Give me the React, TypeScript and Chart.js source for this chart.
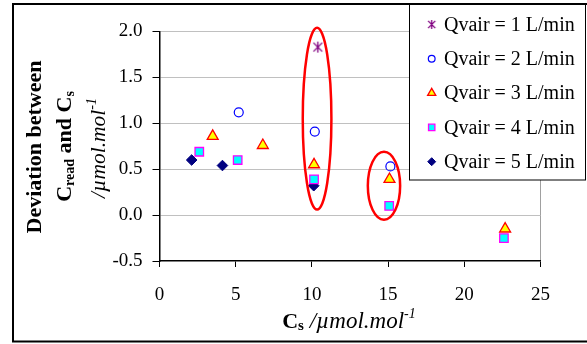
import React, { useEffect, useRef } from "react";
import { Chart, registerables } from "chart.js";
import { drawPoint } from "chart.js/helpers";

Chart.register(...registerables);

const seriesLabels = ["Qvair = 1 L/min", "Qvair = 2 L/min", "Qvair = 3 L/min", "Qvair = 4 L/min", "Qvair = 5 L/min"];

const q1X = [10.39];
const q1Y = [1.83];
const q2X = [5.2, 10.19, 15.15];
const q2Y = [1.12, 0.91, 0.53];
const q3X = [3.49, 6.78, 10.14, 15.09, 22.68];
const q3Y = [0.86, 0.76, 0.55, 0.39, -0.15];
const q4X = [2.61, 5.13, 10.14, 15.07, 22.6];
const q4Y = [0.69, 0.6, 0.39, 0.1, -0.25];
const q5X = [2.11, 4.13, 10.12];
const q5Y = [0.6, 0.54, 0.32];

const xTicks = [0, 5, 10, 15, 20, 25];
const yTicks = [-0.5, 0, 0.5, 1.0, 1.5, 2.0];

// highlighted groups (data-space ellipses)
const ellipseCx = [10.34, 14.73];
const ellipseCy = [1.05, 0.32];
const ellipseRx = [0.94, 1.06];
const ellipseRy = [0.99, 0.37];

const SERIF = "'Liberation Serif', 'Times New Roman', serif";

function makeAsterisk(size: number, color: string) {
  const c = document.createElement("canvas");
  c.width = size;
  c.height = size;
  const g = c.getContext("2d")!;
  const m = size / 2;
  const r = size / 2 - 1;
  g.strokeStyle = color;
  g.lineWidth = 1.3;
  g.beginPath();
  g.moveTo(m, m - r);
  g.lineTo(m, m + r);
  const d = r * 0.8;
  g.moveTo(m - d, m - d);
  g.lineTo(m + d, m + d);
  g.moveTo(m + d, m - d);
  g.lineTo(m - d, m + d);
  g.stroke();
  return c;
}

const styles: any[] = [
  { pointStyle: "asterisk", radius: 6, bg: "#800080", border: "#800080", bw: 1.2 },
  { pointStyle: "circle", radius: 4.5, bg: "rgba(0,0,0,0)", border: "#0000ff", bw: 1.2 },
  { pointStyle: "triangle", radius: 6.3, bg: "#ffff00", border: "#ff0000", bw: 1.3 },
  { pointStyle: "rect", radius: 6, bg: "#00ffff", border: "#ff00ff", bw: 1.3 },
  { pointStyle: "rectRot", radius: 5.3, bg: "#000080", border: "#000080", bw: 1 },
];

const xs = [q1X, q2X, q3X, q4X, q5X];
const ys = [q1Y, q2Y, q3Y, q4Y, q5Y];

type Run = { t: string; font: string; dy?: number };

function runsWidth(ctx: CanvasRenderingContext2D, runs: Run[]) {
  let w = 0;
  for (const r of runs) {
    ctx.font = r.font;
    w += ctx.measureText(r.t).width;
  }
  return w;
}

function drawRuns(ctx: CanvasRenderingContext2D, runs: Run[], x: number, y: number) {
  const total = runsWidth(ctx, runs);
  let cx = x - total / 2;
  for (const r of runs) {
    ctx.font = r.font;
    ctx.fillText(r.t, cx, y + (r.dy || 0));
    cx += ctx.measureText(r.t).width;
  }
}

export default function App() {
  const ref = useRef<HTMLCanvasElement | null>(null);
  useEffect(() => {
    if (!ref.current) return;
    const starMain = makeAsterisk(13, "#800080");
    const starLegend = makeAsterisk(11, "#800080");
    const resolveStyle = (i: number, legend: boolean) =>
      styles[i].pointStyle === "asterisk" ? (legend ? starLegend : starMain) : styles[i].pointStyle;

    const decorPlugin = {
      id: "decor",
      beforeDraw(chart: any) {
        const ctx = chart.ctx;
        ctx.save();
        ctx.fillStyle = "#ffffff";
        ctx.fillRect(0, 0, chart.width, chart.height);
        ctx.strokeStyle = "#000";
        ctx.lineWidth = 2;
        ctx.strokeRect(13, 4, 600, 337.5);
        ctx.restore();
      },
      afterDatasetsDraw(chart: any) {
        const ctx = chart.ctx;
        const xs_ = chart.scales.x;
        const ys_ = chart.scales.y;
        ctx.save();
        ctx.strokeStyle = "#ff0000";
        ctx.lineWidth = 2.5;
        for (let i = 0; i < ellipseCx.length; i++) {
          const cx = xs_.getPixelForValue(ellipseCx[i]);
          const cy = ys_.getPixelForValue(ellipseCy[i]);
          const rx = Math.abs(xs_.getPixelForValue(ellipseCx[i] + ellipseRx[i]) - cx);
          const ry = Math.abs(ys_.getPixelForValue(ellipseCy[i] + ellipseRy[i]) - cy);
          ctx.beginPath();
          ctx.ellipse(cx, cy, rx, ry, 0, 0, Math.PI * 2);
          ctx.stroke();
        }
        ctx.restore();
      },
      afterDraw(chart: any) {
        const ctx = chart.ctx;
        ctx.save();
        ctx.fillStyle = "#000";
        ctx.textBaseline = "alphabetic";
        const b22 = `bold 22px ${SERIF}`;
        const b14 = `bold 14px ${SERIF}`;
        const b15 = `bold 15px ${SERIF}`;
        const i21 = `italic 21.5px ${SERIF}`;
        const i23 = `italic 23px ${SERIF}`;
        const i14 = `italic 14px ${SERIF}`;
        // Y title (rotated)
        ctx.save();
        ctx.rotate(-Math.PI / 2);
        drawRuns(ctx, [{ t: "Deviation between", font: b22 }], -147, 41);
        drawRuns(
          ctx,
          [
            { t: "C", font: b22 },
            { t: "read", font: b14, dy: 3 },
            { t: " and C", font: b22 },
            { t: "s", font: b14, dy: 3 },
          ],
          -146.5,
          71
        );
        drawRuns(
          ctx,
          [
            { t: "/\u00b5mol.mol", font: i21 },
            { t: "-1", font: i14, dy: -9 },
          ],
          -148,
          105
        );
        ctx.restore();
        // X title
        drawRuns(
          ctx,
          [
            { t: "C", font: b22 },
            { t: "s", font: b15, dy: 2 },
            { t: " /\u00b5mol.mol", font: i23 },
            { t: "-1", font: i14, dy: -10 },
          ],
          349,
          328
        );
        // Legend
        ctx.fillStyle = "#fff";
        ctx.fillRect(409.5, 4.5, 176, 175.5);
        ctx.strokeStyle = "#000";
        ctx.lineWidth = 1;
        ctx.strokeRect(409.5, 4.5, 176, 175.5);
        ctx.textBaseline = "middle";
        for (let i = 0; i < seriesLabels.length; i++) {
          const cy = 24.5 + i * 34.3;
          const st = styles[i];
          ctx.fillStyle = st.bg;
          ctx.strokeStyle = st.border;
          ctx.lineWidth = st.bw;
          drawPoint(
            ctx,
            { pointStyle: resolveStyle(i, true), radius: st.radius * 0.75, rotation: 0, borderWidth: st.bw },
            431.7,
            cy
          );
          ctx.fillStyle = "#000";
          ctx.font = `20px ${SERIF}`;
          ctx.fillText(seriesLabels[i], 444, cy + 1);
        }
        ctx.restore();
      },
    };

    const datasets = xs.map((arr, i) => ({
      label: seriesLabels[i],
      data: arr.map((x, j) => ({ x, y: ys[i][j] })),
      pointStyle: resolveStyle(i, false),
      pointRadius: styles[i].radius,
      pointHoverRadius: styles[i].radius,
      pointBackgroundColor: styles[i].bg,
      pointBorderColor: styles[i].border,
      pointBorderWidth: styles[i].bw,
      showLine: false,
    }));
    const chart = new Chart(ref.current, {
      type: "scatter",
      data: { datasets },
      options: {
        animation: false,
        responsive: false,
        devicePixelRatio: 1,
        layout: { padding: { left: 0, top: 31.5, right: 46.5, bottom: 0 } },
        plugins: { legend: { display: false }, tooltip: { enabled: false } },
        scales: {
          x: {
            type: "linear",
            min: 0,
            max: 25,
            afterBuildTicks: (s: any) => {
              s.ticks = xTicks.map((v) => ({ value: v }));
            },
            afterFit: (s: any) => {
              s.height = 83;
            },
            ticks: {
              color: "#000",
              font: { family: SERIF, size: 19 },
              padding: 17,
              maxRotation: 0,
              callback: (v: any) => String(v),
            },
            grid: {
              color: (c: any) => (c.tick && c.tick.value === 25 ? "#a0a0a0" : "rgba(0,0,0,0)"),
              tickColor: "#000",
              tickLength: 6,
              lineWidth: 1,
            },
            border: { display: true, color: "#000", width: 1.5 },
          },
          y: {
            type: "linear",
            min: -0.5,
            max: 2.0,
            afterBuildTicks: (s: any) => {
              s.ticks = yTicks.map((v) => ({ value: v }));
            },
            afterFit: (s: any) => {
              s.width = 159.5;
            },
            ticks: {
              color: "#000",
              font: { family: SERIF, size: 19 },
              padding: 10,
              callback: (v: any) => Number(v).toFixed(1),
            },
            grid: {
              color: (c: any) => (c.tick && c.tick.value === -0.5 ? "rgba(0,0,0,0)" : "#c0c0c0"),
              tickColor: "#000",
              tickLength: 7,
              lineWidth: 1,
            },
            border: { display: true, color: "#000", width: 1.5 },
          },
        },
      },
      plugins: [decorPlugin],
    });
    return () => chart.destroy();
  }, []);
  return (
    <div style={{ position: "absolute", left: 0, top: 0, width: 587, height: 344 }}>
      <canvas ref={ref} width={587} height={344} style={{ width: 587, height: 344, display: "block" }} />
    </div>
  );
}
